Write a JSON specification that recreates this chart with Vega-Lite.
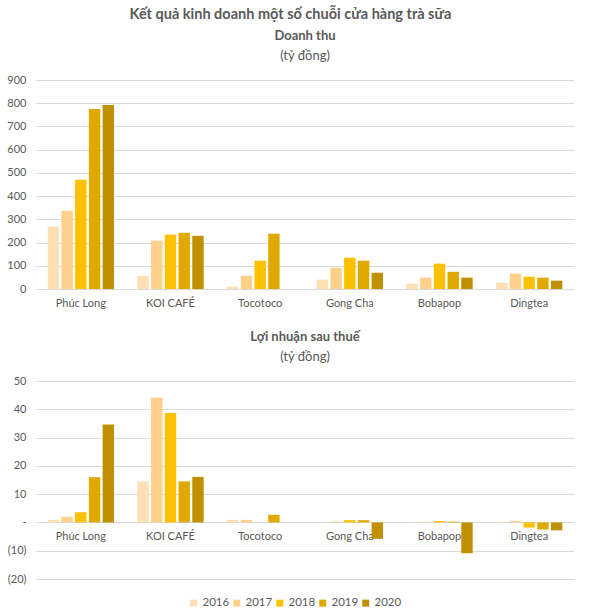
{
  "$schema": "https://vega.github.io/schema/vega-lite/v6.json",
  "padding": {"left": 6, "right": 17, "top": 6, "bottom": 4},
  "background": "white",
  "title": {
    "text": "Kết quả kinh doanh một số chuỗi cửa hàng trà sữa",
    "fontSize": 14.5,
    "fontWeight": "bold",
    "color": "#595959",
    "font": "Lato",
    "anchor": "middle",
    "offset": 8
  },
  "datasets": {
    "rev": [
      {"chain": "Phúc Long", "year": "2016", "value": 269},
      {"chain": "Phúc Long", "year": "2017", "value": 337},
      {"chain": "Phúc Long", "year": "2018", "value": 470},
      {"chain": "Phúc Long", "year": "2019", "value": 775},
      {"chain": "Phúc Long", "year": "2020", "value": 792},
      {"chain": "KOI CAFÉ", "year": "2016", "value": 57},
      {"chain": "KOI CAFÉ", "year": "2017", "value": 208},
      {"chain": "KOI CAFÉ", "year": "2018", "value": 234},
      {"chain": "KOI CAFÉ", "year": "2019", "value": 242},
      {"chain": "KOI CAFÉ", "year": "2020", "value": 229},
      {"chain": "Tocotoco", "year": "2016", "value": 10},
      {"chain": "Tocotoco", "year": "2017", "value": 57},
      {"chain": "Tocotoco", "year": "2018", "value": 122},
      {"chain": "Tocotoco", "year": "2019", "value": 238},
      {"chain": "Tocotoco", "year": "2020", "value": 0},
      {"chain": "Gong Cha", "year": "2016", "value": 40},
      {"chain": "Gong Cha", "year": "2017", "value": 92},
      {"chain": "Gong Cha", "year": "2018", "value": 135},
      {"chain": "Gong Cha", "year": "2019", "value": 122},
      {"chain": "Gong Cha", "year": "2020", "value": 70},
      {"chain": "Bobapop", "year": "2016", "value": 23},
      {"chain": "Bobapop", "year": "2017", "value": 49},
      {"chain": "Bobapop", "year": "2018", "value": 109},
      {"chain": "Bobapop", "year": "2019", "value": 74},
      {"chain": "Bobapop", "year": "2020", "value": 49},
      {"chain": "Dingtea", "year": "2016", "value": 27},
      {"chain": "Dingtea", "year": "2017", "value": 66},
      {"chain": "Dingtea", "year": "2018", "value": 53},
      {"chain": "Dingtea", "year": "2019", "value": 49},
      {"chain": "Dingtea", "year": "2020", "value": 36}
    ],
    "profit": [
      {"chain": "Phúc Long", "year": "2016", "value": 0.9},
      {"chain": "Phúc Long", "year": "2017", "value": 2},
      {"chain": "Phúc Long", "year": "2018", "value": 3.6},
      {"chain": "Phúc Long", "year": "2019", "value": 16},
      {"chain": "Phúc Long", "year": "2020", "value": 34.6},
      {"chain": "KOI CAFÉ", "year": "2016", "value": 14.5},
      {"chain": "KOI CAFÉ", "year": "2017", "value": 44.1},
      {"chain": "KOI CAFÉ", "year": "2018", "value": 38.7},
      {"chain": "KOI CAFÉ", "year": "2019", "value": 14.5},
      {"chain": "KOI CAFÉ", "year": "2020", "value": 16.1},
      {"chain": "Tocotoco", "year": "2016", "value": 0.9},
      {"chain": "Tocotoco", "year": "2017", "value": 0.9},
      {"chain": "Tocotoco", "year": "2018", "value": 0},
      {"chain": "Tocotoco", "year": "2019", "value": 2.7},
      {"chain": "Tocotoco", "year": "2020", "value": 0},
      {"chain": "Gong Cha", "year": "2016", "value": 0.1},
      {"chain": "Gong Cha", "year": "2017", "value": 0.3},
      {"chain": "Gong Cha", "year": "2018", "value": 0.8},
      {"chain": "Gong Cha", "year": "2019", "value": 0.8},
      {"chain": "Gong Cha", "year": "2020", "value": -5.8},
      {"chain": "Bobapop", "year": "2016", "value": 0.1},
      {"chain": "Bobapop", "year": "2017", "value": 0.2},
      {"chain": "Bobapop", "year": "2018", "value": 0.5},
      {"chain": "Bobapop", "year": "2019", "value": 0.3},
      {"chain": "Bobapop", "year": "2020", "value": -10.9},
      {"chain": "Dingtea", "year": "2016", "value": 0.2},
      {"chain": "Dingtea", "year": "2017", "value": 0.5},
      {"chain": "Dingtea", "year": "2018", "value": -1.8},
      {"chain": "Dingtea", "year": "2019", "value": -2.5},
      {"chain": "Dingtea", "year": "2020", "value": -2.8}
    ]
  },
  "spacing": 23,
  "resolve": {"scale": {"color": "independent"}},
  "vconcat": [
    {
      "width": 538,
      "height": 209,
      "title": {"text": "Doanh thu", "subtitle": "(tỷ đồng)"},
      "data": {"name": "rev"},
      "mark": {"type": "bar"},
      "encoding": {
        "x": {
          "field": "chain", "type": "nominal", "sort": null,
          "scale": {"paddingInner": 0.26, "paddingOuter": 0.13},
          "axis": {"title": null, "labelAngle": 0, "domain": false, "ticks": false, "labelPadding": 8}
        },
        "xOffset": {"field": "year", "type": "nominal", "scale": {"paddingInner": 0.17}},
        "y": {
          "field": "value", "type": "quantitative",
          "scale": {"domain": [0, 900]},
          "axis": {"title": null, "values": [0,100,200,300,400,500,600,700,800,900], "domain": false, "ticks": false, "labelPadding": 10}
        },
        "color": {
          "field": "year", "type": "nominal",
          "scale": {"domain": ["2016","2017","2018","2019","2020"], "range": ["#FFDFB3","#FFD08A","#FFC000","#E1A900","#C09000"]},
          "legend": null
        }
      }
    },
    {
      "width": 538,
      "height": 198,
      "title": {"text": "Lợi nhuận sau thuế", "subtitle": "(tỷ đồng)"},
      "data": {"name": "profit"},
      "mark": {"type": "bar"},
      "encoding": {
        "x": {
          "field": "chain", "type": "nominal", "sort": null,
          "scale": {"paddingInner": 0.26, "paddingOuter": 0.13},
          "axis": {"title": null, "labelAngle": 0, "domain": false, "ticks": false, "labelPadding": 8, "offset": -56.6}
        },
        "xOffset": {"field": "year", "type": "nominal", "scale": {"paddingInner": 0.17}},
        "y": {
          "field": "value", "type": "quantitative",
          "scale": {"domain": [-20, 50]},
          "axis": {"title": null, "values": [-20,-10,0,10,20,30,40,50], "domain": false, "ticks": false, "labelPadding": 10,
            "labelExpr": "datum.value == 0 ? '-' : (datum.value < 0 ? '(' + abs(datum.value) + ')' : datum.label)"}
        },
        "color": {
          "field": "year", "type": "nominal",
          "scale": {"domain": ["2016","2017","2018","2019","2020"], "range": ["#FFDFB3","#FFD08A","#FFC000","#E1A900","#C09000"]},
          "legend": {"title": null, "orient": "none", "legendX": 152, "legendY": 216, "direction": "horizontal", "symbolType": "square", "symbolSize": 49, "labelOffset": 3, "columnPadding": 1, "labelFontSize": 11.5}
        }
      }
    }
  ],
  "config": {
    "font": "Lato",
    "view": {"stroke": null},
    "title": {"fontSize": 13, "fontWeight": "bold", "color": "#595959", "subtitleFontSize": 13, "subtitleColor": "#595959", "subtitlePadding": 7, "offset": 11},
    "axis": {"labelColor": "#595959", "labelFontSize": 11, "gridColor": "#D9D9D9", "gridWidth": 1},
    "axisX": {"grid": false},
    "legend": {"labelColor": "#595959"}
  }
}
